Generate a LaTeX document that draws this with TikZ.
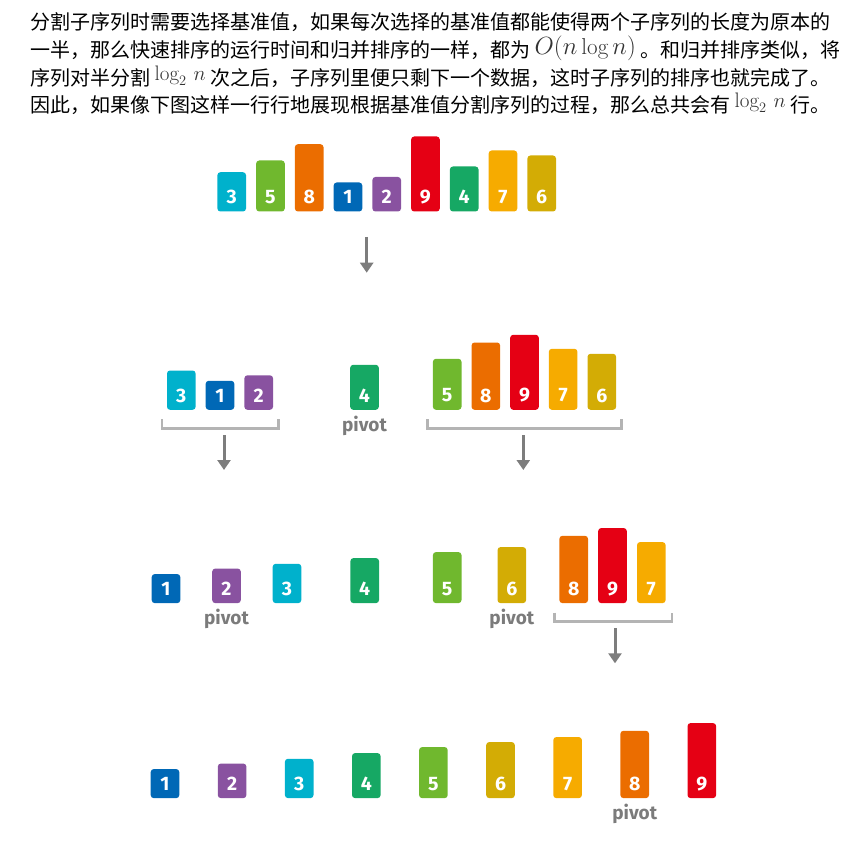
\documentclass[tikz,border=0pt]{standalone}
\usepackage{fontspec}
\usepackage{amsmath}
\usetikzlibrary{arrows.meta, positioning, calc}
\newfontfamily\cjk{Noto Sans CJK SC}
\newfontfamily\numfont{Fira Sans}

\definecolor{q1}{HTML}{0068B6}
\definecolor{q2}{HTML}{8952A0}
\definecolor{q3}{HTML}{00B1CC}
\definecolor{q4}{HTML}{16A864}
\definecolor{q5}{HTML}{70B82E}
\definecolor{q6}{HTML}{D3AC05}
\definecolor{q7}{HTML}{F6AB00}
\definecolor{q8}{HTML}{EB6D00}
\definecolor{q9}{HTML}{E50014}
\definecolor{arrowgray}{HTML}{7D7D7D}
\definecolor{bracegray}{HTML}{B4B4B4}
\definecolor{pivotgray}{HTML}{7B7B7B}
\definecolor{mathgray}{HTML}{333333}

\tikzset{
  numbar/.style={rectangle, rounded corners=3pt, inner sep=0pt, minimum width=28.6pt, anchor=south},
  numtext/.style={text=white, inner sep=0pt, font=\numfont\bfseries\fontsize{19.5}{19.5}\selectfont},
  pivottext/.style={text=pivotgray, anchor=base, inner sep=0pt, font=\numfont\bfseries\fontsize{19}{19}\selectfont},
  brace/.style={draw=bracegray, line width=2.6pt},
  stepdown/.style={draw=arrowgray, line width=3pt, -{Triangle[width=13pt,length=10pt]}},
  paraline/.style={anchor=base west, inner sep=0pt, font=\cjk\fontsize{20}{28}\selectfont},
}

% bar: name, x, bottom y, value
\newcommand\qbar[4]{%
  \pgfmathsetmacro\qh{{29,34.5,39.3,45,51,56,61,67.3,75}[#4-1]}%
  \node[numbar, fill=q#4, minimum height=\qh pt] (#1) at ({#2},{#3}) {};
  \node[numtext] (#1t) at ([yshift=14.5pt]#1.south) {#4};}
% formulas in the text
\newcommand\bigO{\raisebox{3pt}{\fontsize{23}{23}\selectfont\color{mathgray}$O(n\log n)$}}
\newcommand\logtwo{\raisebox{5pt}{\fontsize{21}{21}\selectfont\color{mathgray}$\log_2\,n$}}

\begin{document}
\begin{tikzpicture}[x=1pt, y=-1pt]
  \useasboundingbox (0,0) rectangle (868,853);
  % Text above the picture
  \node[paraline] (line1) at (30,29.8) {分割子序列时需要选择基准值，如果每次选择的基准值都能使得两个子序列的长度为原本的};
  \node[paraline] (line2) at (30,57.6) {一半，那么快速排序的运行时间和归并排序的一样，都为 \bigO{} 。和归并排序类似，将};
  \node[paraline] (line3) at (30,85.2) {序列对半分割 \logtwo{} 次之后，子序列里便只剩下一个数据，这时子序列的排序也就完成了。};
  \node[paraline] (line4) at (30,112.8) {因此，如果像下图这样一行行地展现根据基准值分割序列的过程，那么总共会有 \logtwo{} 行。};

  % Row 1
  \foreach \v [count=\i] in {3,5,8,1,2,9,4,7,6}
    {\qbar{r1b\v}{231.7+38.75*(\i-1)}{211.7}{\v}}
  \coordinate (a1top) at (366.7,237);
  \coordinate (a1end) at (366.7,272.7);
  \draw[stepdown] (a1top) -- (a1end);

  % Row 2
  \foreach \v [count=\i] in {3,1,2}
    {\qbar{r2b\v}{181.3+38.7*(\i-1)}{410}{\v}}
  \qbar{r2b4}{364.5}{410}{4}
  \foreach \v [count=\i] in {5,8,9,7,6}
    {\qbar{r2b\v}{447.2+38.65*(\i-1)}{410}{\v}}
  \node[pivottext] (p2) at ([yshift=-21pt]r2b4.south) {pivot};
  \draw[brace] ([shift={(-5pt,-9.3pt)}]r2b3.south west) -- ([shift={(-5pt,-18.7pt)}]r2b3.south west)
    -- ([shift={(5pt,-18.7pt)}]r2b2.south east) -- ([shift={(5pt,-9.3pt)}]r2b2.south east);
  \draw[brace] ([shift={(-5pt,-9.3pt)}]r2b5.south west) -- ([shift={(-5pt,-18.7pt)}]r2b5.south west)
    -- ([shift={(5pt,-18.7pt)}]r2b6.south east) -- ([shift={(5pt,-9.3pt)}]r2b6.south east);
  \coordinate (a2ltop) at (224,435);
  \coordinate (a2lend) at (224,470);
  \coordinate (a2rtop) at (523.3,435);
  \coordinate (a2rend) at (523.3,470);
  \draw[stepdown] (a2ltop) -- (a2lend);
  \draw[stepdown] (a2rtop) -- (a2rend);

  % Row 3
  \foreach \v [count=\i] in {1,2,3}
    {\qbar{r3b\v}{166+60.5*(\i-1)}{603.3}{\v}}
  \qbar{r3b4}{364.7}{603.3}{4}
  \qbar{r3b5}{447.2}{603.3}{5}
  \qbar{r3b6}{511.8}{603.3}{6}
  \foreach \v [count=\i] in {8,9,7}
    {\qbar{r3b\v}{573.7+38.8*(\i-1)}{603.3}{\v}}
  \node[pivottext] (p3a) at ([yshift=-21pt]r3b2.south) {pivot};
  \node[pivottext] (p3b) at ([yshift=-21pt]r3b6.south) {pivot};
  \draw[brace] ([shift={(-5pt,-9.3pt)}]r3b8.south west) -- ([shift={(-5pt,-18.4pt)}]r3b8.south west)
    -- ([shift={(6pt,-18.4pt)}]r3b7.south east) -- ([shift={(6pt,-9.3pt)}]r3b7.south east);
  \coordinate (a3top) at (615,628.3);
  \coordinate (a3end) at (615,663.3);
  \draw[stepdown] (a3top) -- (a3end);

  % Row 4
  \foreach \v in {1,...,9}
    {\qbar{r4b\v}{165+67.1*(\v-1)}{798.3}{\v}}
  \node[pivottext] (p4) at ([yshift=-21pt]r4b8.south) {pivot};
\end{tikzpicture}
\end{document}
